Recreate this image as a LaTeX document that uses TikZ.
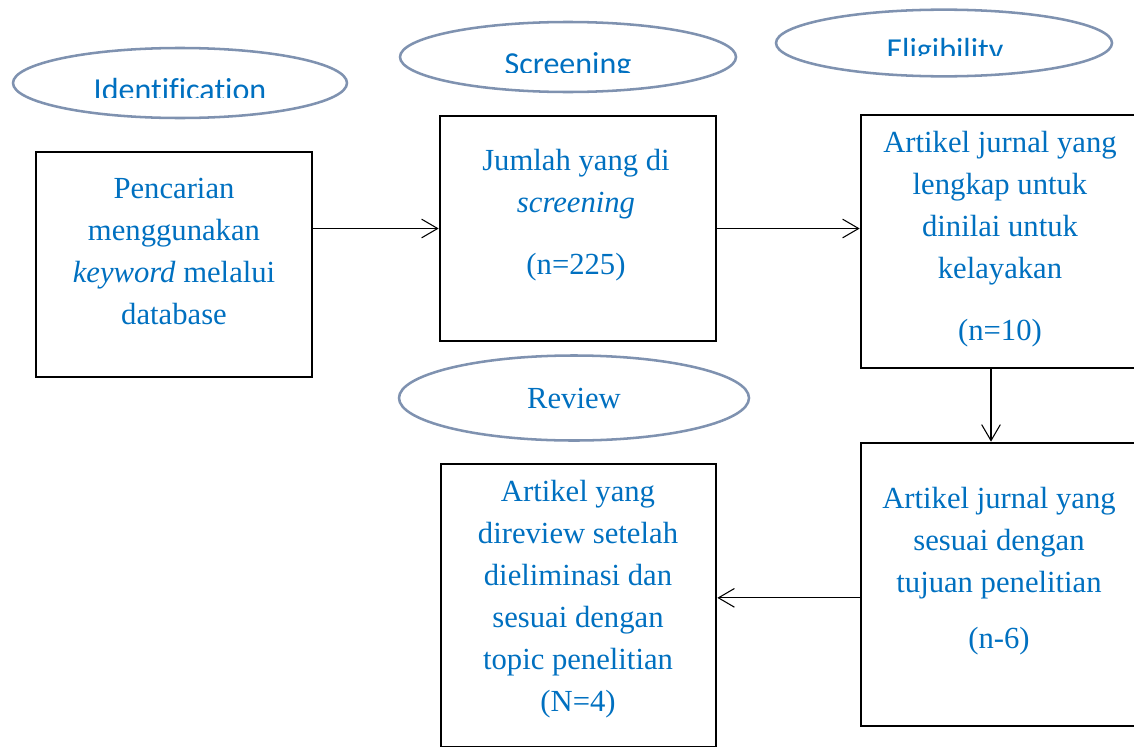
\documentclass[tikz,border=0pt]{standalone}
\usepackage{fontspec}
\setmainfont{Liberation Serif}
\newfontfamily\labelfont[Ligatures=NoCommon]{Carlito}
\usetikzlibrary{arrows.meta,shapes.geometric}
\definecolor{textblue}{RGB}{0,112,192}
\definecolor{rimgray}{RGB}{127,146,176}

\begin{document}
\begin{tikzpicture}[x=0.75pt, y=-0.75pt,
  box/.style={draw=black, line width=2pt, minimum width=207pt, inner sep=0pt},
  boxtext/.style={text=textblue, align=center, font=\fontsize{23}{31.5}\selectfont},
  stage/.style={ellipse, draw=rimgray, line width=1.9pt, inner sep=0pt},
  stagetext/.style={text=textblue, font=\labelfont\fontsize{24}{28}\selectfont, anchor=base, inner sep=0pt},
  flow/.style={-{Straight Barb[length=12pt, width=14pt]}, line width=0.8pt}]
\useasboundingbox (0,0) rectangle (1134,746);
\clip (0,0) rectangle (1134,746);
% stage ovals
\node[stage, minimum width=250.5pt, minimum height=52.5pt] (identify) at (180,83) {};
\node[stage, minimum width=252pt, minimum height=52.5pt] (screenoval) at (568,57) {};
\node[stage, minimum width=252pt, minimum height=50pt] (eligoval) at (944,43) {};
\node[stage, minimum width=262.5pt, minimum height=63.75pt] (reviewoval) at (574,398) {};
\begin{scope}
\clip (0,0) rectangle (1134,97);
\node[stagetext] (identifytxt) at (180,100) {Identification};
\end{scope}
\begin{scope}
\clip (0,0) rectangle (1134,72);
\node[stagetext] (screentxt) at (568,74) {Screening};
\end{scope}
\begin{scope}
\clip (0,0) rectangle (1134,55);
\node[stagetext] (eligtxt) at (945,60) {Eligibility};
\end{scope}
\node[boxtext] (reviewtxt) at (574,398) {Review};
% boxes
\node[box, minimum height=168.75pt] (search) at (174,264.5) {};
\node[box, minimum height=168.75pt] (screen) at (578,228.5) {};
\node[box, minimum height=189.75pt] (elig) at (999,241.5) {};
\node[box, minimum height=212.25pt] (fit) at (999,584.5) {};
\node[box, minimum width=206.25pt, minimum height=212.25pt] (review) at (578.5,605.5) {};
\node[boxtext] (searchtxt) at (174,251) {Pencarian\\menggunakan\\\textit{keyword} melalui\\database};
\node[boxtext] (screentxt) at (576,215.5) {Jumlah yang di\\\textit{screening}\\[15pt](n=225)};
\node[boxtext] (eligtxt) at (1000,239) {Artikel jurnal yang\\lengkap untuk\\dinilai untuk\\kelayakan\\[15pt](n=10)};
\node[boxtext] (fittxt) at (999,571) {Artikel jurnal yang\\sesuai dengan\\tujuan penelitian\\[11pt](n-6)};
\node[boxtext] (reviewtxt) at (578,599.5) {Artikel yang\\direview setelah\\dieliminasi dan\\sesuai dengan\\topic penelitian\\(N=4)};
% connectors
\draw[flow] (search.east |- screen.west) -- (screen.west);
\draw[flow] (screen.east) -- (screen.east -| elig.west);
\draw[flow] ([xshift=-6pt]elig.south) -- ([xshift=-6pt]elig.south |- fit.north);
\draw[flow] ([yshift=-10pt]fit.west) -- ([yshift=-10pt]fit.west -| review.east);
\end{tikzpicture}
\end{document}
